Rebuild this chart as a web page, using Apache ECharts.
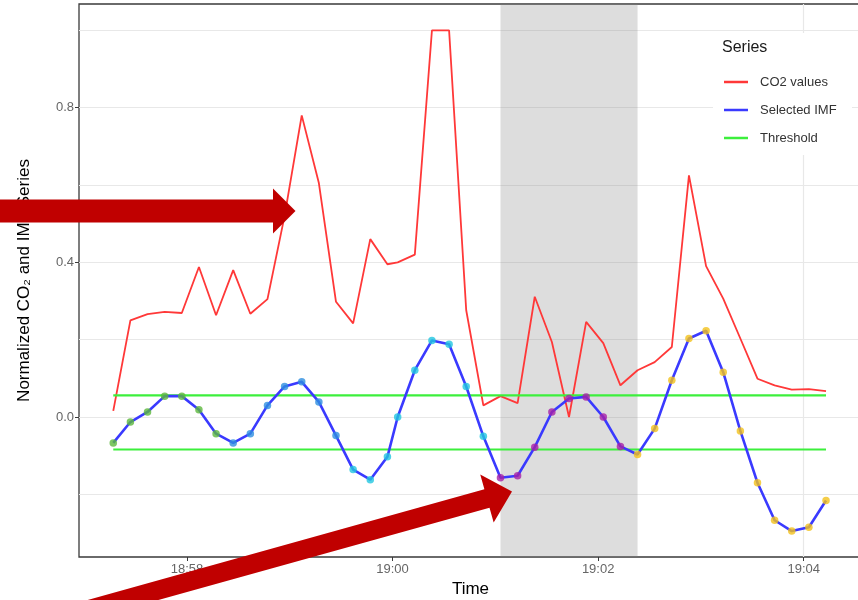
<!DOCTYPE html>
<html>
<head>
<meta charset="utf-8">
<title>Normalized CO2 and IMF series</title>
<script src="https://cdn.jsdelivr.net/npm/echarts@6/dist/echarts.min.js"></script>
<style>
  html, body { margin: 0; padding: 0; background: #ffffff; }
  #chart { width: 858px; height: 600px; }
</style>
</head>
<body>
<div id="chart"></div>
<script>
// ---- data ----------------------------------------------------------------
const sampleDate = '2024-03-15';

const sampleTimes = [
  '18:57:17', '18:57:27', '18:57:37', '18:57:47', '18:57:57',
  '18:58:07', '18:58:17', '18:58:27', '18:58:37', '18:58:47', '18:58:57',
  '18:59:07', '18:59:17', '18:59:27', '18:59:37', '18:59:47', '18:59:57',
  '19:00:03', '19:00:13', '19:00:23', '19:00:33', '19:00:43', '19:00:53',
  '19:01:03', '19:01:13', '19:01:23', '19:01:33', '19:01:43', '19:01:53',
  '19:02:03', '19:02:13', '19:02:23', '19:02:33', '19:02:43', '19:02:53',
  '19:03:03', '19:03:13', '19:03:23', '19:03:33', '19:03:43', '19:03:53',
  '19:04:03', '19:04:13'
];

const co2Values = [
  0.016, 0.250, 0.266, 0.272, 0.269, 0.388, 0.263, 0.380, 0.267, 0.305,
  0.520, 0.780, 0.605, 0.298, 0.242, 0.460, 0.395,
  0.400, 0.420, 1.000, 1.000, 0.276, 0.030, 0.054, 0.036, 0.311, 0.194,
  0.000, 0.246, 0.191, 0.082, 0.121, 0.142, 0.181, 0.625, 0.390, 0.306,
  0.203, 0.099, 0.082, 0.071, 0.072, 0.067
];

const imfValues = [
  -0.067, -0.013, 0.013, 0.054, 0.054, 0.019, -0.043, -0.067, -0.043, 0.030,
  0.079, 0.091, 0.039, -0.048, -0.136, -0.162, -0.103,
  0.000, 0.121, 0.198, 0.188, 0.079, -0.050, -0.157, -0.152, -0.078, 0.013,
  0.048, 0.052, 0.000, -0.076, -0.097, -0.030, 0.095, 0.203, 0.223, 0.116,
  -0.036, -0.170, -0.267, -0.295, -0.285, -0.216
];

// cycle each IMF sample belongs to (colours the points)
const cycleIds = [
  1, 1, 1, 1, 1, 1, 1,
  2, 2, 2, 2, 2, 2, 2,
  3, 3, 3, 3, 3, 3, 3, 3, 3,
  4, 4, 4, 4, 4, 4, 4, 4,
  5, 5, 5, 5, 5, 5, 5, 5, 5, 5, 5, 5
];

const thresholdUpper = 0.056;
const thresholdLower = -0.084;

const highlightStart = '19:01:03';
const highlightEnd = '19:02:23';

const xTickLabels = ['18:58', '19:00', '19:02', '19:04'];
const xGridLabels = ['19:04'];
const yTickValues = [0.0, 0.4, 0.8];
const yGridValues = [-0.2, 0.0, 0.2, 0.4, 0.6, 0.8, 1.0];

const xRange = ['18:56:57', '19:04:34'];
const yRange = [-0.362, 1.068];

// ---- styles --------------------------------------------------------------
const cycleColors = { 1: '#5cb83c', 2: '#2e8ee0', 3: '#22c7e0', 4: '#a621a8', 5: '#f2c21b' };
const FONT = '"Liberation Sans", Arial, Helvetica, sans-serif';
const ARROW_RED = '#c00000';

// ---- helpers -------------------------------------------------------------
function toTime(hms) {
  const parts = hms.split(':');
  const full = parts.length === 2 ? hms + ':00' : hms;
  return new Date(sampleDate + 'T' + full).getTime();
}
function hhmm(v) {
  const d = new Date(v);
  return String(d.getHours()).padStart(2, '0') + ':' + String(d.getMinutes()).padStart(2, '0');
}
// filled block arrow from tail to tip (pixel coordinates of the canvas)
function blockArrow(tail, tip, shaftW, headW, headL) {
  const dx = tip[0] - tail[0], dy = tip[1] - tail[1];
  const len = Math.hypot(dx, dy);
  const ux = dx / len, uy = dy / len;
  const nx = -uy, ny = ux;
  const bx = tip[0] - ux * headL, by = tip[1] - uy * headL;
  const hs = shaftW / 2, hh = headW / 2;
  return [
    [tail[0] + nx * hs, tail[1] + ny * hs],
    [bx + nx * hs, by + ny * hs],
    [bx + nx * hh, by + ny * hh],
    [tip[0], tip[1]],
    [bx - nx * hh, by - ny * hh],
    [bx - nx * hs, by - ny * hs],
    [tail[0] - nx * hs, tail[1] - ny * hs]
  ];
}

// ---- series data ---------------------------------------------------------
const times = sampleTimes.map(toTime);
const co2Data = times.map((t, i) => [t, co2Values[i]]);
const imfData = times.map((t, i) => [t, imfValues[i]]);
const pointData = times.map((t, i) => ({
  value: [t, imfValues[i]],
  itemStyle: { color: cycleColors[cycleIds[i]] }
}));
const tFirst = times[0], tLast = times[times.length - 1];

const chart = echarts.init(document.getElementById('chart'), null, { renderer: 'canvas' });

chart.setOption({
  animation: false,
  backgroundColor: '#ffffff',
  textStyle: { fontFamily: FONT },
  title: {
    text: 'Series',
    left: 722,
    top: 40,
    padding: 0,
    z: 20,
    textStyle: { fontFamily: FONT, fontSize: 16, fontWeight: 'normal', color: '#1a1a1a' }
  },
  legend: {
    orient: 'vertical',
    left: 724,
    top: 74,
    padding: 0,
    z: 20,
    itemWidth: 24,
    itemHeight: 2.5,
    itemGap: 12,
    icon: 'rect',
    selectedMode: false,
    data: ['CO2 values', 'Selected IMF', 'Threshold'],
    textStyle: { fontFamily: FONT, fontSize: 13, color: '#333333', lineHeight: 16, padding: [0, 0, 0, 7] }
  },
  grid: {
    left: 79,
    right: -4,
    top: 4,
    bottom: 43,
    outerBoundsMode: 'none',
    show: true,
    backgroundColor: '#ffffff',
    borderColor: '#3a3a3a',
    borderWidth: 1.3
  },
  xAxis: {
    type: 'value',
    min: toTime(xRange[0]),
    max: toTime(xRange[1]),
    name: 'Time',
    nameLocation: 'middle',
    nameGap: 22,
    nameTextStyle: { fontFamily: FONT, fontSize: 17, color: '#000000' },
    axisLine: { show: false, onZero: false },
    axisTick: {
      show: true, length: 4, inside: false,
      customValues: xTickLabels.map(toTime),
      lineStyle: { color: '#3a3a3a', width: 1 }
    },
    axisLabel: {
      show: true, margin: 6,
      customValues: xTickLabels.map(toTime),
      formatter: hhmm,
      fontFamily: FONT, fontSize: 13, color: '#666666'
    },
    splitLine: { show: false }
  },
  yAxis: {
    type: 'value',
    min: yRange[0],
    max: yRange[1],
    name: 'Normalized CO\u2082 and IMF Series',
    nameLocation: 'middle',
    nameGap: 46,
    nameRotate: 90,
    nameTextStyle: { fontFamily: FONT, fontSize: 17, color: '#000000' },
    axisLine: { show: false, onZero: false },
    axisTick: {
      show: true, length: 4, inside: false,
      customValues: yTickValues,
      lineStyle: { color: '#3a3a3a', width: 1 }
    },
    axisLabel: {
      show: true, margin: 5,
      customValues: yTickValues,
      formatter: v => v.toFixed(1),
      fontFamily: FONT, fontSize: 13, color: '#666666'
    },
    splitLine: { show: false }
  },
  series: [
    {
      // panel grid lines and the highlighted window
      name: 'panel',
      type: 'line',
      data: co2Data,
      symbol: 'none',
      silent: true,
      z: 1,
      lineStyle: { opacity: 0 },
      legendHoverLink: false,
      markLine: {
        silent: true,
        z: 1,
        symbol: ['none', 'none'],
        label: { show: false },
        lineStyle: { color: '#e8e8e8', type: 'solid', width: 1.2 },
        data: yGridValues.map(v => ({ yAxis: v }))
          .concat(xGridLabels.map(l => ({ xAxis: toTime(l) })))
      },
      markArea: {
        silent: true,
        z: 2,
        itemStyle: { color: 'rgba(128,128,128,0.27)' },
        data: [[{ xAxis: toTime(highlightStart) }, { xAxis: toTime(highlightEnd) }]]
      }
    },
    {
      name: 'CO2 values',
      type: 'line',
      data: co2Data,
      symbol: 'none',
      z: 3,
      color: '#ff3838',
      lineStyle: { color: '#ff3838', width: 1.8 }
    },
    {
      name: 'Threshold',
      type: 'line',
      data: [[tFirst, thresholdUpper], [tLast, thresholdUpper]],
      symbol: 'none',
      z: 3,
      color: '#3cef3c',
      lineStyle: { color: '#3cef3c', width: 2.2 }
    },
    {
      name: 'Threshold',
      type: 'line',
      data: [[tFirst, thresholdLower], [tLast, thresholdLower]],
      symbol: 'none',
      z: 3,
      color: '#3cef3c',
      lineStyle: { color: '#3cef3c', width: 2.2 }
    },
    {
      name: 'Selected IMF',
      type: 'line',
      data: imfData,
      symbol: 'none',
      z: 4,
      color: '#3a3aff',
      lineStyle: { color: '#3a3aff', width: 2.6 }
    },
    {
      name: 'IMF cycles',
      type: 'scatter',
      data: pointData,
      symbol: 'circle',
      symbolSize: 7.5,
      z: 5
    }
  ],
  graphic: [
    {
      type: 'rect',
      z: 3,
      silent: true,
      shape: { x: 713, y: 33, width: 139, height: 122 },
      style: { fill: '#ffffff' }
    },
    {
      type: 'polygon',
      z: 100,
      silent: true,
      shape: { points: blockArrow([-10, 211], [295.5, 211], 23, 45, 22.5) },
      style: { fill: ARROW_RED }
    },
    {
      type: 'polygon',
      z: 100,
      silent: true,
      shape: { points: blockArrow([80, 612], [512, 491.5], 19, 50, 26) },
      style: { fill: ARROW_RED }
    }
  ]
});
</script>
</body>
</html>
